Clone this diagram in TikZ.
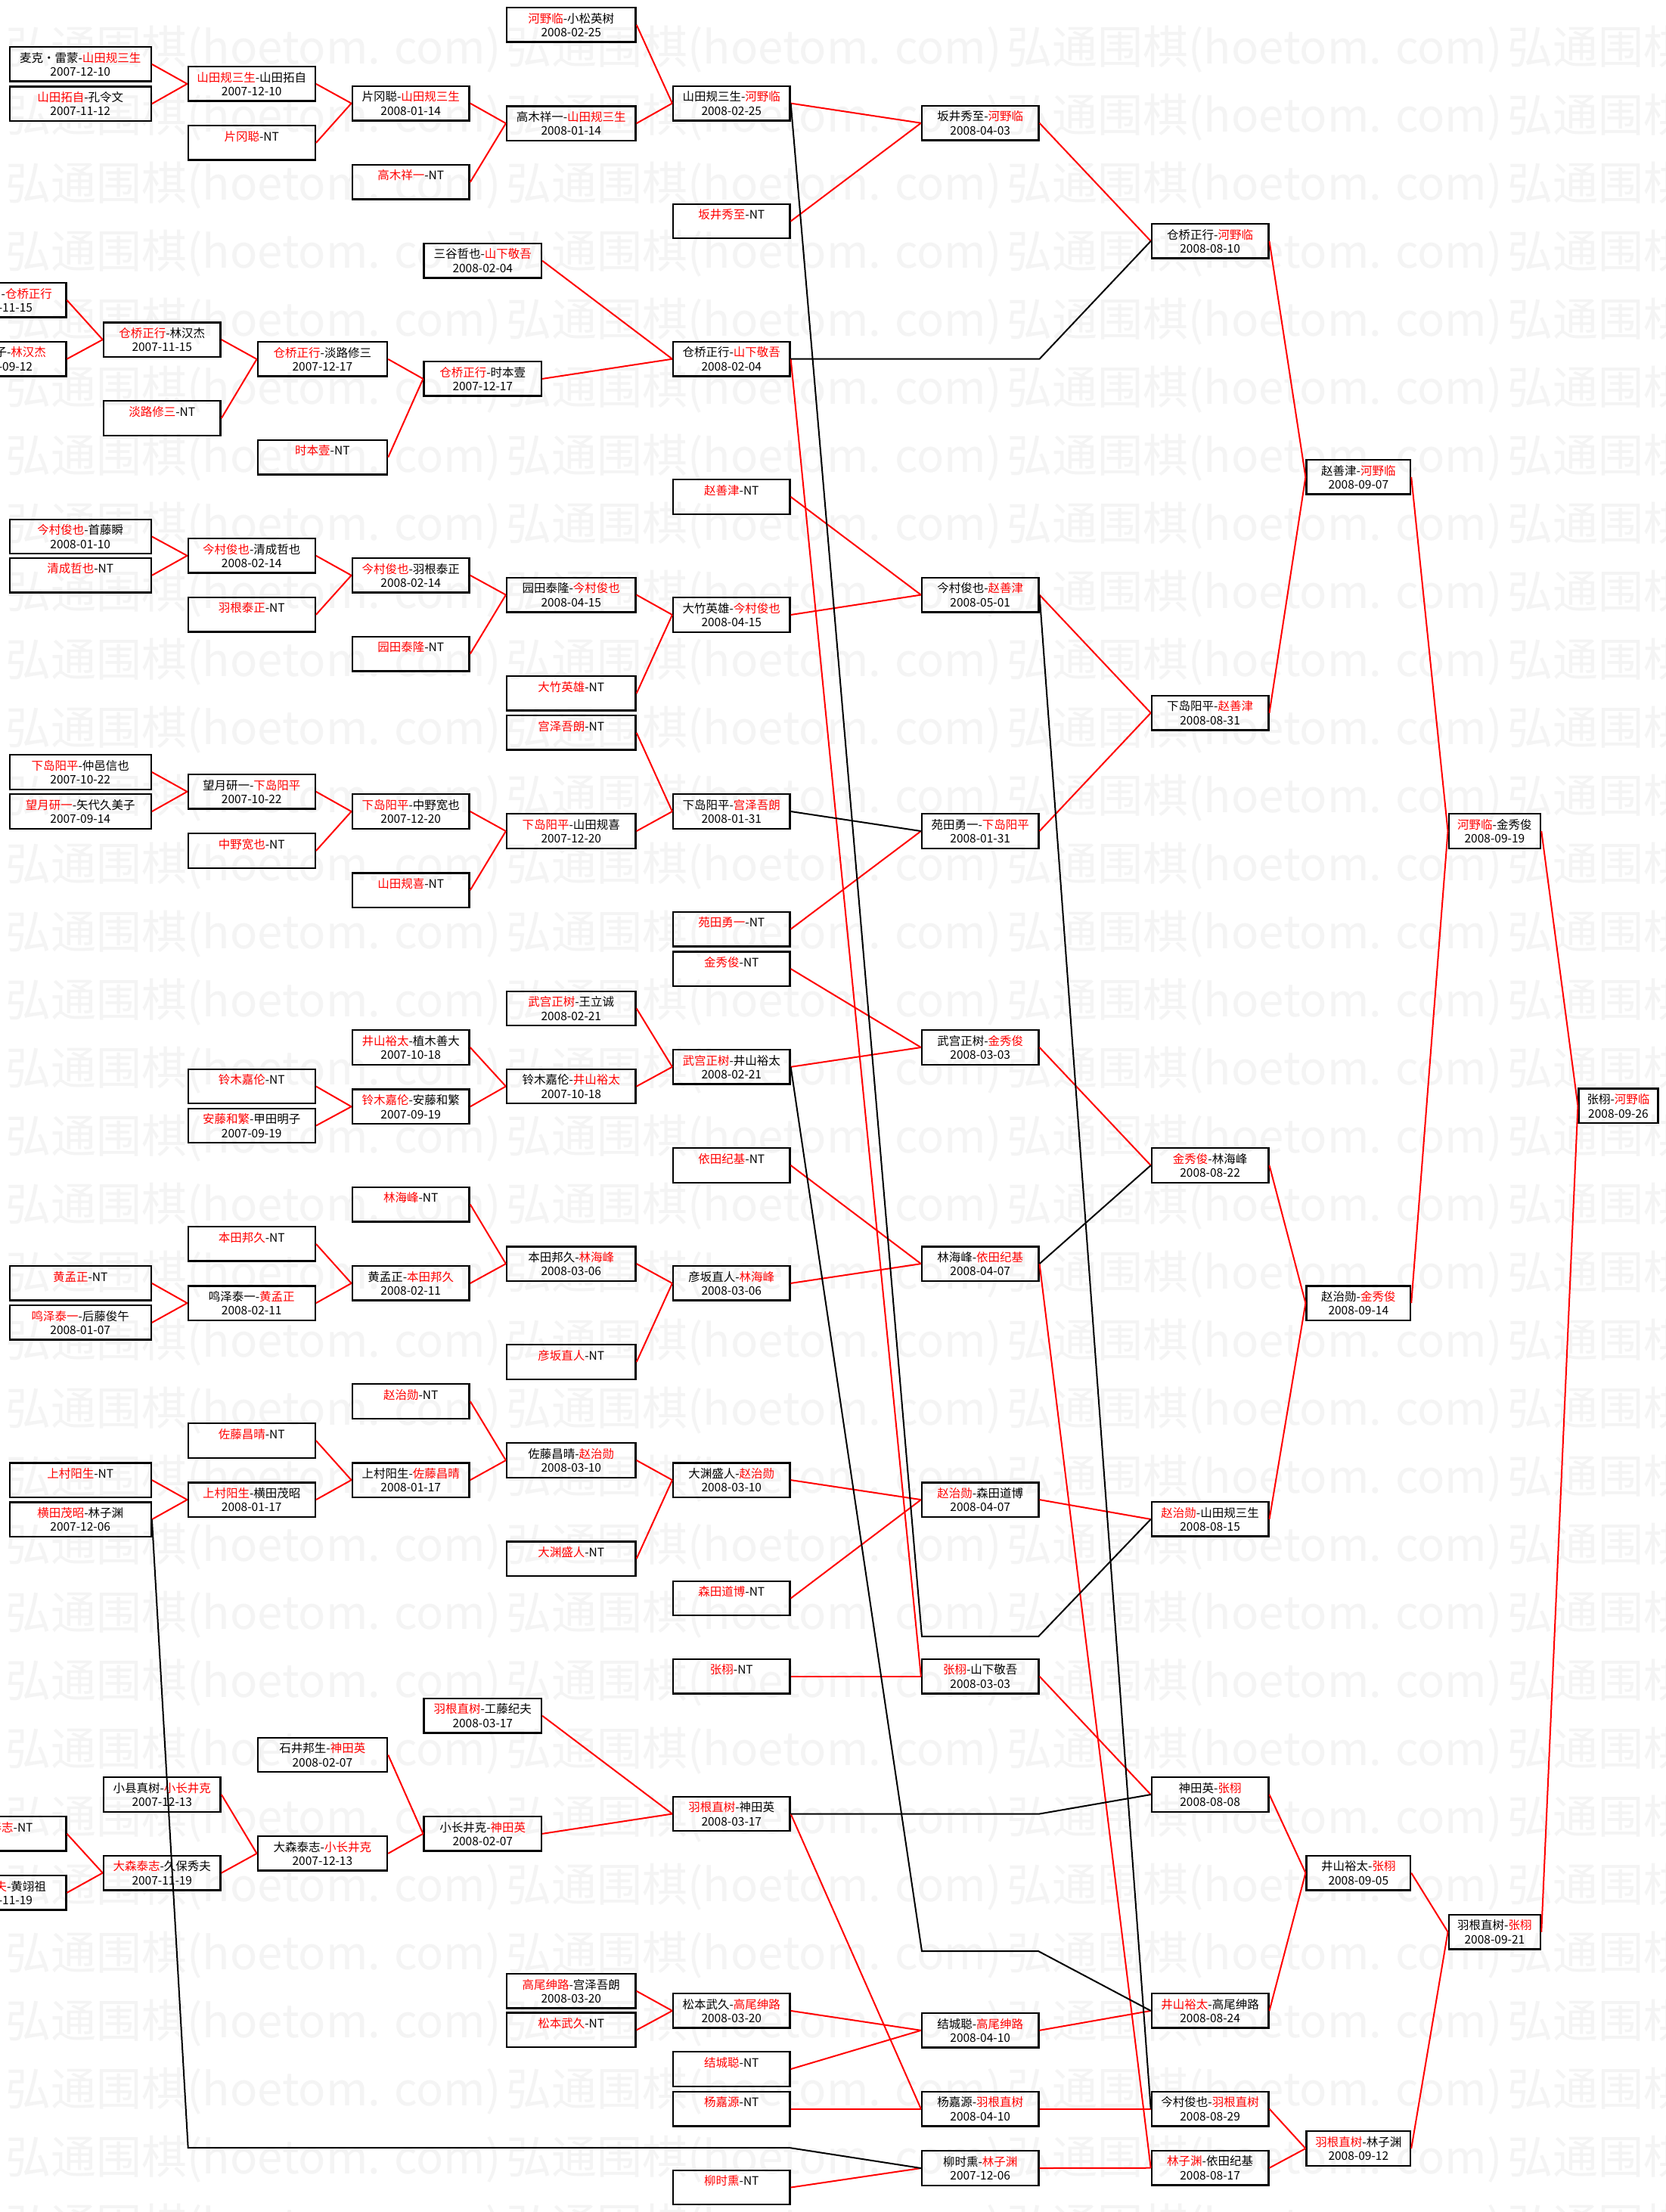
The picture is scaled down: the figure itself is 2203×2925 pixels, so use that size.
\documentclass[tikz,border=0pt]{standalone}
\usepackage{fontspec}
\setmainfont{Noto Sans CJK SC}
\definecolor{rd}{RGB}{255,0,0}
\definecolor{wmc}{RGB}{244,244,244}
\newcommand\rn[1]{\textcolor{rd}{#1}}
\newcommand\ntgap{\phantom{2008}}
\newcommand\bx[5]{\node[bx,#1] (#2) at (#3) {#4\\#5};}
\begin{document}
\begin{tikzpicture}[x=0.5pt,y=-0.5pt,
  bx/.style={draw=black,line width=1.2pt,rectangle,inner sep=0pt,minimum height=22.75pt,align=center,font=\fontsize{7.75pt}{9.25pt}\selectfont},
  lbl/.style={inner sep=0pt,font=\fontsize{7.75pt}{9.25pt}\selectfont,anchor=east},
  cA/.style={minimum width=93.5pt}, cAp/.style={minimum width=78.5pt},
  cB/.style={minimum width=84pt}, cBp/.style={minimum width=77.35pt},
  cC/.style={minimum width=77.4pt}, cCp/.style={minimum width=85.65pt},
  cDp/.style={minimum width=77.65pt}, cD/.style={minimum width=85.2pt},
  cE/.style={minimum width=77.15pt}, cF/.style={minimum width=77.15pt},
  cG/.style={minimum width=77.2pt}, cH/.style={minimum width=68.7pt},
  cI/.style={minimum width=60.65pt}, cJ/.style={minimum width=52.35pt},
  win/.style={draw=rd,line width=1pt},
  lose/.style={draw=black,line width=1pt},
  wmk/.style={inner sep=0pt,anchor=west,text=wmc,font=\fontsize{30pt}{30pt}\selectfont}]

\useasboundingbox (0,0) rectangle (2203,2925);
\fill[white] (0,0) rectangle (2203,2925);
\clip (0,0) rectangle (2203,2925);

% faint watermark
\foreach \j in {0,...,32}{\foreach \i in {0,...,3}{
  \node[wmk] (wm-\i-\j) at ({7+662*\i},{65+90*\j}) {弘通围棋(hoetom. com)};}}

% column A' (cut at the left edge)
\node[bx,cAp] (p1) at (8.8,396.9) {};
\node[lbl] (p1t) at (69.4,388.2) {-\rn{仓桥正行}};
\node[lbl] (p1d) at (43.4,406.7) {-11-15};
\node[bx,cAp] (p2) at (8.8,474.7) {};
\node[lbl] (p2t) at (61.3,466.0) {子-\rn{林汉杰}};
\node[lbl] (p2d) at (43.4,484.5) {-09-12};
\node[bx,cAp] (p3) at (8.8,2424.8) {};
\node[lbl] (p3t) at (43.9,2416.1) {\rn{泰志}-NT};
\node[bx,cAp] (p4) at (8.8,2502.8) {};
\node[lbl] (p4t) at (61.3,2494.1) {\rn{夫}-黄翊祖};
\node[lbl] (p4d) at (43.4,2512.6) {-11-19};

% column A
\bx{cA}{a1}{106.2,84.9}{麦克・雷蒙-\rn{山田规三生}}{2007-12-10}
\bx{cA}{a2}{106.2,137.2}{\rn{山田拓自}-孔令文}{2007-11-12}
\bx{cA}{a3}{106.2,709.5}{\rn{今村俊也}-首藤瞬}{2008-01-10}
\bx{cA}{a4}{106.2,760.8}{\rn{清成哲也}-NT}{\ntgap}
\bx{cA}{a5}{106.2,1021}{\rn{下岛阳平}-仲邑信也}{2007-10-22}
\bx{cA}{a6}{106.2,1073}{\rn{望月研一}-矢代久美子}{2007-09-14}
\bx{cA}{a7}{106.2,1696.9}{\rn{黄孟正}-NT}{\ntgap}
\bx{cA}{a8}{106.2,1748.9}{\rn{鸣泽泰一}-后藤俊午}{2008-01-07}
\bx{cA}{a9}{106.2,1957.1}{\rn{上村阳生}-NT}{\ntgap}
\bx{cA}{a10}{106.2,2009.1}{\rn{横田茂昭}-林子渊}{2007-12-06}

% column B
\bx{cB}{b1}{332.7,110.9}{\rn{山田规三生}-山田拓自}{2007-12-10}
\bx{cB}{b2}{332.7,188.9}{\rn{片冈聪}-NT}{\ntgap}
\bx{cB}{b3}{332.7,734.8}{\rn{今村俊也}-清成哲也}{2008-02-14}
\bx{cB}{b4}{332.7,812.8}{\rn{羽根泰正}-NT}{\ntgap}
\bx{cB}{b5}{332.7,1046.8}{望月研一-\rn{下岛阳平}}{2007-10-22}
\bx{cB}{b6}{332.7,1125}{\rn{中野宽也}-NT}{\ntgap}
\bx{cB}{b7}{332.7,1436.5}{\rn{铃木嘉伦}-NT}{\ntgap}
\bx{cB}{b8}{332.7,1488.5}{\rn{安藤和繁}-甲田明子}{2007-09-19}
\bx{cB}{b9}{332.7,1644.9}{\rn{本田邦久}-NT}{\ntgap}
\bx{cB}{b10}{332.7,1723.1}{鸣泽泰一-\rn{黄孟正}}{2008-02-11}
\bx{cB}{b11}{332.7,1905}{\rn{佐藤昌晴}-NT}{\ntgap}
\bx{cB}{b12}{332.7,1983.1}{\rn{上村阳生}-横田茂昭}{2008-01-17}

% column B'
\bx{cBp}{q1}{214.3,449.1}{\rn{仓桥正行}-林汉杰}{2007-11-15}
\bx{cBp}{q2}{214.3,553}{\rn{淡路修三}-NT}{\ntgap}
\bx{cBp}{q3}{214.3,2373}{小县真树-\rn{小长井克}}{2007-12-13}
\bx{cBp}{q4}{214.3,2476.6}{\rn{大森泰志}-久保秀夫}{2007-11-19}

% column C
\bx{cC}{c1}{543.2,136.6}{片冈聪-\rn{山田规三生}}{2008-01-14}
\bx{cC}{c2}{543.2,240.8}{\rn{高木祥一}-NT}{\ntgap}
\bx{cC}{c3}{543.2,760.8}{\rn{今村俊也}-羽根泰正}{2008-02-14}
\bx{cC}{c4}{543.2,864.6}{\rn{园田泰隆}-NT}{\ntgap}
\bx{cC}{c5}{543.2,1073}{\rn{下岛阳平}-中野宽也}{2007-12-20}
\bx{cC}{c6}{543.2,1177.1}{\rn{山田规喜}-NT}{\ntgap}
\bx{cC}{c7}{543.2,1385}{\rn{井山裕太}-植木善大}{2007-10-18}
\bx{cC}{c8}{543.2,1463.3}{\rn{铃木嘉伦}-安藤和繁}{2007-09-19}
\bx{cC}{c9}{543.2,1592.6}{\rn{林海峰}-NT}{\ntgap}
\bx{cC}{c10}{543.2,1696.9}{黄孟正-\rn{本田邦久}}{2008-02-11}
\bx{cC}{c11}{543.2,1853}{\rn{赵治勋}-NT}{\ntgap}
\bx{cC}{c12}{543.2,1957.1}{上村阳生-\rn{佐藤昌晴}}{2008-01-17}

% column C'
\bx{cCp}{r1}{426.4,474.9}{\rn{仓桥正行}-淡路修三}{2007-12-17}
\bx{cCp}{r2}{426.4,604.7}{\rn{时本壹}-NT}{\ntgap}
\bx{cCp}{r3}{426.4,2320.5}{石井邦生-\rn{神田英}}{2008-02-07}
\bx{cCp}{r4}{426.4,2450.9}{大森泰志-\rn{小长井克}}{2007-12-13}

% column D'
\bx{cDp}{s1}{638.3,344.8}{三谷哲也-\rn{山下敬吾}}{2008-02-04}
\bx{cDp}{s2}{638.3,500.9}{\rn{仓桥正行}-时本壹}{2007-12-17}
\bx{cDp}{s3}{638.3,2268.8}{\rn{羽根直树}-工藤纪夫}{2008-03-17}
\bx{cDp}{s4}{638.3,2424.8}{小长井克-\rn{神田英}}{2008-02-07}

% column D
\bx{cD}{d1}{755.3,32.8}{\rn{河野临}-小松英树}{2008-02-25}
\bx{cD}{d2}{755.3,163.1}{高木祥一-\rn{山田规三生}}{2008-01-14}
\bx{cD}{d3}{755.3,786.6}{园田泰隆-\rn{今村俊也}}{2008-04-15}
\bx{cD}{d4}{755.3,916.9}{\rn{大竹英雄}-NT}{\ntgap}
\bx{cD}{d5}{755.3,968.9}{\rn{宫泽吾朗}-NT}{\ntgap}
\bx{cD}{d6}{755.3,1099}{\rn{下岛阳平}-山田规喜}{2007-12-20}
\bx{cD}{d7}{755.3,1333.5}{\rn{武宫正树}-王立诚}{2008-02-21}
\bx{cD}{d8}{755.3,1436.5}{铃木嘉伦-\rn{井山裕太}}{2007-10-18}
\bx{cD}{d9}{755.3,1671.1}{本田邦久-\rn{林海峰}}{2008-03-06}
\bx{cD}{d10}{755.3,1801}{\rn{彦坂直人}-NT}{\ntgap}
\bx{cD}{d11}{755.3,1931}{佐藤昌晴-\rn{赵治勋}}{2008-03-10}
\bx{cD}{d12}{755.3,2061.1}{\rn{大渊盛人}-NT}{\ntgap}
\bx{cD}{d13}{755.3,2632.8}{\rn{高尾绅路}-宫泽吾朗}{2008-03-20}
\bx{cD}{d14}{755.3,2684.4}{\rn{松本武久}-NT}{\ntgap}

% column E
\bx{cE}{e1}{967.3,136.6}{山田规三生-\rn{河野临}}{2008-02-25}
\bx{cE}{e2}{967.3,292.5}{\rn{坂井秀至}-NT}{\ntgap}
\bx{cE}{e3}{967.3,474.7}{仓桥正行-\rn{山下敬吾}}{2008-02-04}
\bx{cE}{e4}{967.3,657}{\rn{赵善津}-NT}{\ntgap}
\bx{cE}{e5}{967.3,813}{大竹英雄-\rn{今村俊也}}{2008-04-15}
\bx{cE}{e6}{967.3,1073}{下岛阳平-\rn{宫泽吾朗}}{2008-01-31}
\bx{cE}{e7}{967.3,1228.6}{\rn{苑田勇一}-NT}{\ntgap}
\bx{cE}{e8}{967.3,1281.1}{\rn{金秀俊}-NT}{\ntgap}
\bx{cE}{e9}{967.3,1410.8}{\rn{武宫正树}-井山裕太}{2008-02-21}
\bx{cE}{e10}{967.3,1541}{\rn{依田纪基}-NT}{\ntgap}
\bx{cE}{e11}{967.3,1696.9}{彦坂直人-\rn{林海峰}}{2008-03-06}
\bx{cE}{e12}{967.3,1957.1}{大渊盛人-\rn{赵治勋}}{2008-03-10}
\bx{cE}{e13}{967.3,2113.5}{\rn{森田道博}-NT}{\ntgap}
\bx{cE}{e14}{967.3,2216.7}{\rn{张栩}-NT}{\ntgap}
\bx{cE}{e15}{967.3,2398.5}{\rn{羽根直树}-神田英}{2008-03-17}
\bx{cE}{e16}{967.3,2658.9}{松本武久-\rn{高尾绅路}}{2008-03-20}
\bx{cE}{e17}{967.3,2736}{\rn{结城聪}-NT}{\ntgap}
\bx{cE}{e18}{967.3,2788.6}{\rn{杨嘉源}-NT}{\ntgap}
\bx{cE}{e19}{967.3,2892.5}{\rn{柳时熏}-NT}{\ntgap}

% column F
\bx{cF}{f1}{1296.2,162.7}{坂井秀至-\rn{河野临}}{2008-04-03}
\bx{cF}{f2}{1296.2,786.6}{今村俊也-\rn{赵善津}}{2008-05-01}
\bx{cF}{f3}{1296.2,1099}{苑田勇一-\rn{下岛阳平}}{2008-01-31}
\bx{cF}{f4}{1296.2,1385}{武宫正树-\rn{金秀俊}}{2008-03-03}
\bx{cF}{f5}{1296.2,1671.1}{林海峰-\rn{依田纪基}}{2008-04-07}
\bx{cF}{f6}{1296.2,1983.1}{\rn{赵治勋}-森田道博}{2008-04-07}
\bx{cF}{f7}{1296.2,2216.7}{\rn{张栩}-山下敬吾}{2008-03-03}
\bx{cF}{f8}{1296.2,2684.8}{结城聪-\rn{高尾绅路}}{2008-04-10}
\bx{cF}{f9}{1296.2,2788.6}{杨嘉源-\rn{羽根直树}}{2008-04-10}
\bx{cF}{f10}{1296.2,2867}{柳时熏-\rn{林子渊}}{2007-12-06}

% column G
\bx{cG}{g1}{1600.1,318.8}{仓桥正行-\rn{河野临}}{2008-08-10}
\bx{cG}{g2}{1600.1,942.7}{下岛阳平-\rn{赵善津}}{2008-08-31}
\bx{cG}{g3}{1600.1,1541}{\rn{金秀俊}-林海峰}{2008-08-22}
\bx{cG}{g4}{1600.1,2008.9}{\rn{赵治勋}-山田规三生}{2008-08-15}
\bx{cG}{g5}{1600.1,2373}{神田英-\rn{张栩}}{2008-08-08}
\bx{cG}{g6}{1600.1,2658.9}{\rn{井山裕太}-高尾绅路}{2008-08-24}
\bx{cG}{g7}{1600.1,2788.6}{今村俊也-\rn{羽根直树}}{2008-08-29}
\bx{cG}{g8}{1600.1,2866.7}{\rn{林子渊}-依田纪基}{2008-08-17}

% column H
\bx{cH}{h1}{1796.3,630.8}{赵善津-\rn{河野临}}{2008-09-07}
\bx{cH}{h2}{1796.3,1723.1}{赵治勋-\rn{金秀俊}}{2008-09-14}
\bx{cH}{h3}{1796.3,2476.6}{井山裕太-\rn{张栩}}{2008-09-05}
\bx{cH}{h4}{1796.3,2841}{\rn{羽根直树}-林子渊}{2008-09-12}

% column I
\bx{cI}{i1}{1976.4,1099}{\rn{河野临}-金秀俊}{2008-09-19}
\bx{cI}{i2}{1976.4,2554.7}{羽根直树-\rn{张栩}}{2008-09-21}

% column J
\bx{cJ}{j1}{2140,1462.3}{张栩-\rn{河野临}}{2008-09-26}

% winner connectors
\foreach \u/\v in {a1/b1,a2/b1,b1/c1,b2/c1,c1/d2,c2/d2,d1/e1,d2/e1,e1/f1,e2/f1,f1/g1,g1/h1,g2/h1,h1/i1,h2/i1,i1/j1,i2/j1,
  p1/q1,p2/q1,q1/r1,q2/r1,r1/s2,r2/s2,s1/e3,s2/e3,
  a3/b3,a4/b3,b3/c3,b4/c3,c3/d3,c4/d3,d3/e5,d4/e5,e4/f2,e5/f2,f2/g2,f3/g2,
  a5/b5,a6/b5,b5/c5,b6/c5,c5/d6,c6/d6,d5/e6,d6/e6,e7/f3,
  e8/f4,d7/e9,d8/e9,e9/f4,c7/d8,c8/d8,b7/c8,b8/c8,f4/g3,
  e10/f5,e11/f5,c9/d9,c10/d9,b9/c10,b10/c10,a7/b10,a8/b10,d9/e11,d10/e11,
  g3/h2,g4/h2,
  c11/d11,c12/d11,b11/c12,b12/c12,a9/b12,a10/b12,d11/e12,d12/e12,e12/f6,e13/f6,f6/g4,
  e14/f7,e3/f7,f7/g5,
  p3/q4,p4/q4,q3/r4,q4/r4,r3/s4,r4/s4,s3/e15,s4/e15,e15/f9,
  d13/e16,d14/e16,e16/f8,e17/f8,f8/g6,g5/h3,g6/h3,h3/i2,
  e18/f9,f9/g7,g7/h4,g8/h4,h4/i2,
  e19/f10,f10/g8,f5/g8}
  {\draw[win] (\u.east) -- (\v.west);}

% loser connectors
\coordinate (k1) at (1219,2163.8);
\coordinate (k2) at (1373.3,2163.8);
\draw[lose] (e1.east) -- (k1) -- (k2) -- (g4.west);
\draw[lose] (e3.east) -- (e3.east -| f1.east) -- (g1.west);
\draw[lose] (e6.east) -- (f3.west);
\draw[lose] (f2.east) -- (g7.west);
\draw[lose] (f5.east) -- (g3.west);
\coordinate (k3) at (1219,2580.2);
\coordinate (k4) at (1373.3,2580.2);
\draw[lose] (e9.east) -- (k3) -- (k4) -- (g6.west);
\draw[lose] (e15.east) -- (e15.east -| f1.east) -- (g5.west);
\coordinate (k5) at (248.7,2840.1);
\coordinate (k6) at (1044.4,2840.1);
\draw[lose] (a10.east) -- (k5) -- (k6) -- (f10.west);
\end{tikzpicture}
\end{document}
